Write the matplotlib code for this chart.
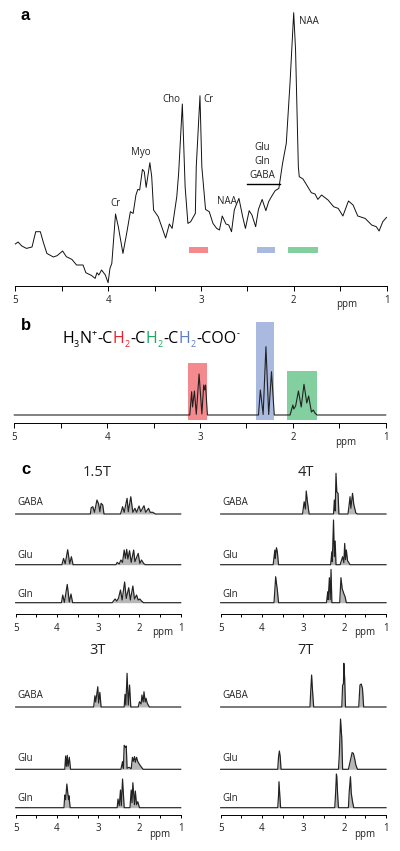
import matplotlib
matplotlib.use('Agg')
import matplotlib.pyplot as plt

plt.rcParams['font.family'] = ['Open Sans', 'DejaVu Sans']

W, H = 400, 851
RED = '#F58A8E'
BLUE = '#A9B9DF'
GREEN = '#83CFA0'

# Panel a: in vivo spectrum, intensity in pixels above the axis
a_ppm = [5.00, 4.97, 4.93, 4.88, 4.82, 4.78, 4.73, 4.70, 4.66, 4.59, 4.55, 4.49, 4.45, 4.39, 4.34, 4.27, 4.24, 4.18,
         4.14, 4.12, 4.10, 4.07, 4.03, 4.00, 3.98, 3.96, 3.92, 3.89, 3.84, 3.80, 3.76, 3.73, 3.70, 3.68, 3.66, 3.63,
         3.61, 3.59, 3.55, 3.53, 3.51, 3.46, 3.41, 3.38, 3.34, 3.31, 3.26, 3.24, 3.20, 3.17, 3.14, 3.11, 3.06, 3.05,
         3.01, 2.99, 2.95, 2.91, 2.87, 2.83, 2.80, 2.77, 2.73, 2.70, 2.67, 2.64, 2.62, 2.59, 2.55, 2.52, 2.48, 2.45,
         2.41, 2.38, 2.34, 2.30, 2.27, 2.24, 2.20, 2.16, 2.12, 2.08, 2.04, 2.00, 1.98, 1.95, 1.94, 1.90, 1.86, 1.81,
         1.77, 1.74, 1.70, 1.63, 1.57, 1.52, 1.47, 1.41, 1.36, 1.31, 1.23, 1.16, 1.11, 1.08, 1.04, 1.00]
a_int = [41.7, 43.7, 39.7, 37.3, 38.7, 54, 54, 44, 32.3, 28.7, 30, 34.7, 29, 26.3, 20.7, 20.7, 13, 10.3,
         7.3, 13, 10.7, 15.7, 10.7, 3, 17.3, 22.3, 71.7, 59, 32.3, 52.3, 74, 72.3, 90.7, 96.3, 95.7, 116.3,
         114, 98.3, 123, 109, 75.7, 69, 55.7, 47.7, 61.7, 57.3, 89, 112.3, 181.7, 99, 62.3, 64, 72.3, 119,
         190, 119, 76.3, 74, 62.3, 57.3, 55.7, 69.7, 61.7, 60.7, 54, 75.7, 80.7, 87.3, 69, 57.3, 75, 70.7,
         59, 76.3, 86.3, 75, 84, 89, 95, 97.3, 122.3, 142.3, 202.3, 273, 235.7, 119, 109, 106.7, 100.7, 93,
         91.7, 86.3, 90.7, 85.7, 79, 77.3, 69.7, 84.7, 80.7, 69.7, 67.3, 60.7, 59, 54.7, 64, 68.3]

# Panel b: GABA spectrum, intensity above its baseline
b_ppm = [3.11, 3.09, 3.08, 3.06, 3.04, 3.01, 2.98, 2.96, 2.95, 2.94, 2.92,
         2.37, 2.35, 2.32, 2.29, 2.26, 2.23, 2.20,
         2.03, 2.00, 1.99, 1.97, 1.94, 1.91, 1.88, 1.85, 1.83, 1.80, 1.78, 1.76, 1.74]
b_int = [0, 23.3, 8, 24, 0.7, 41, 1, 30, 25, 30, 0,
         0, 25, 0.5, 68.3, 0.5, 43.3, 0,
         0, 10, 6, 9, 24, 8, 30.7, 12, 19, 3, 5, 1.7, 0]

# Panel c: simulated spectra at each field strength
gaba15_ppm = [3.19, 3.17, 3.13, 3.09, 3.03, 2.99, 2.96, 2.93, 2.89, 2.86,
              2.46, 2.43, 2.41, 2.37, 2.30, 2.27, 2.21, 2.16, 2.11, 2.07, 2.01, 1.97, 1.89, 1.85, 1.78, 1.74, 1.68, 1.61]
gaba15_int = [0, 6.3, 7.3, 1.7, 14, 10, 2.3, 10.7, 9, 0,
              0, 4, 7.3, 1.7, 15.7, 2.3, 17.3, 1.7, 5.7, 1.7, 8, 2.3, 8.3, 1.7, 5.7, 1.7, 1.7, 0]
glu15_ppm = [3.88, 3.84, 3.80, 3.74, 3.69, 3.65, 3.61,
             2.57, 2.54, 2.49, 2.45, 2.41, 2.37, 2.34, 2.31, 2.28, 2.24, 2.20, 2.14, 2.11, 2.03, 1.99, 1.95, 1.90, 1.86]
glu15_int = [0, 6.3, 1, 15, 1, 8, 0,
             0, 2.3, 0.7, 4.7, 2.3, 14.7, 6.3, 15.3, 5.7, 14, 2.3, 14.7, 3, 11.3, 1.3, 4.7, 1.3, 0]
gln15_ppm = [3.89, 3.86, 3.82, 3.75, 3.70, 3.66, 3.62,
             2.66, 2.63, 2.59, 2.55, 2.51, 2.46, 2.42, 2.36, 2.32, 2.26, 2.22, 2.16, 2.12, 2.07, 2.03, 1.99, 1.95, 1.90]
gln15_int = [0, 7.7, 0.3, 18.3, 0.7, 8.7, 0,
             0, 1.7, 3.7, 1.7, 4.3, 12.7, 2.7, 20.7, 4.3, 15, 2.7, 16.7, 3.7, 7.7, 2.7, 3.7, 1.7, 0]

gaba4_ppm = [3.02, 2.98, 2.95, 2.93, 2.90, 2.86,
             2.27, 2.25, 2.23, 2.21, 2.19, 2.16, 2.14,
             1.92, 1.90, 1.87, 1.85, 1.81, 1.78, 1.73, 1.69]
gaba4_int = [0, 12.3, 5, 23, 12, 0,
             0, 14, 3, 40.7, 22, 20.7, 0,
             0, 6.3, 17.3, 5.7, 20.7, 9.7, 1, 0]
glu4_ppm = [3.73, 3.69, 3.68, 3.65, 3.63, 3.60,
            2.34, 2.31, 2.30, 2.27, 2.25, 2.23, 2.21,
            2.11, 2.05, 2.02, 2.00, 1.98, 1.96, 1.93, 1.87]
glu4_int = [0, 14.7, 6, 17, 13, 0,
            0, 13, 3, 44.7, 8, 23.7, 0,
            0, 8, 2, 21.3, 5, 14.7, 4, 0]
gln4_ppm = [3.71, 3.69, 3.67, 3.63, 3.60,
            2.44, 2.41, 2.40, 2.37, 2.35, 2.33, 2.31,
            2.12, 2.09, 2.06, 2.02, 1.99, 1.96]
gln4_int = [0, 12.7, 26, 12.7, 0,
            0, 11, 3, 25, 3, 33.3, 0,
            0, 25, 14, 9, 6, 0]

gaba3_ppm = [3.11, 3.08, 3.06, 3.01, 2.99, 2.96, 2.93,
             2.37, 2.35, 2.33, 2.30, 2.27, 2.24, 2.21,
             2.03, 2.00, 1.96, 1.94, 1.91, 1.89, 1.86, 1.84, 1.81, 1.76]
gaba3_int = [0, 11.3, 5, 20.3, 4, 14.7, 0,
             0, 12.7, 2, 33.7, 2, 22, 0,
             0, 5.3, 3, 12, 5, 15.3, 5, 8.7, 3.7, 0]
glu3_ppm = [3.81, 3.79, 3.77, 3.75, 3.73, 3.70, 3.67,
            2.45, 2.41, 2.39, 2.37, 2.34, 2.32, 2.30, 2.25, 2.20, 2.17, 2.15, 2.12, 2.10, 2.07, 2.04, 2.00, 1.95, 1.91]
glu3_int = [0, 13.3, 3, 14, 3, 12, 0,
            0, 7.7, 1, 24, 22, 23.3, 1, 2, 0.5, 12, 8, 12.7, 7, 12, 7.7, 5, 2, 0]
gln3_ppm = [3.83, 3.81, 3.79, 3.76, 3.72, 3.71, 3.68,
            2.54, 2.52, 2.49, 2.46, 2.44, 2.41, 2.37,
            2.23, 2.20, 2.18, 2.16, 2.12, 2.10, 2.07, 2.04, 2.00]
gln3_int = [0, 12.7, 8, 23.7, 8, 12, 0,
            0, 8.7, 2, 17.7, 2, 28.7, 0,
            0, 17.7, 5, 25, 3, 16.7, 3, 6, 0]

gaba7_ppm = [2.84, 2.82, 2.80, 2.78, 2.75,
             2.07, 2.05, 2.03, 2.02, 2.00, 1.98,
             1.66, 1.63, 1.60, 1.57, 1.54]
gaba7_int = [0, 17, 32, 17.7, 0,
             0, 22, 23, 43.7, 28.7, 0,
             0, 22, 23, 18.7, 0]
glu7_ppm = [3.62, 3.60, 3.58, 3.56, 3.54,
            2.15, 2.13, 2.10, 2.07, 2.05,
            1.91, 1.85, 1.82, 1.79, 1.76, 1.73, 1.69]
glu7_int = [0, 12.7, 18.3, 12.7, 0,
            0, 14.3, 50.3, 31, 0,
            0, 11, 16.7, 16, 11, 4.3, 0]
gln7_ppm = [3.62, 3.60, 3.59, 3.57, 3.55,
            2.24, 2.22, 2.20, 2.19, 2.17, 2.15,
            1.91, 1.89, 1.86, 1.84, 1.81, 1.78]
gln7_int = [0, 12.7, 26, 12.7, 0,
            0, 14.3, 33.7, 31, 12.7, 0,
            0, 16, 31, 14.3, 6, 0]

tick_labels = ['5', '4', '3', '2', '1']
tick_ppm = [5, 4, 3, 2, 1]
minor_ppm = [4.5, 3.5, 2.5, 1.5]


def px_text(x, y, s, **kw):
    kw.setdefault('ha', 'center')
    kw.setdefault('va', 'center')
    kw.setdefault('fontsize', 7)
    kw.setdefault('color', '#222222')
    return fig.text(x / W, 1 - y / H, s, **kw)


def make_axes(x0, x1, y_axis, height, tick_len=3.5, pad=3):
    # one data unit on y is one pixel, x is ppm running backwards
    ax = fig.add_axes([x0 / W, 1 - y_axis / H, (x1 - x0) / W, height / H])
    ax.set_xlim(5, 1)
    ax.set_ylim(0, height)
    ax.patch.set_alpha(0)
    for side in ['top', 'left', 'right']:
        ax.spines[side].set_visible(False)
    ax.spines['bottom'].set_linewidth(0.7)
    ax.set_yticks([])
    ax.set_xticks(tick_ppm)
    ax.set_xticklabels(tick_labels, fontsize=7, color='#222222')
    ax.set_xticks(minor_ppm, minor=True)
    ax.tick_params(axis='x', which='both', length=tick_len, width=0.7, pad=pad)
    return ax


def spectrum(ax, ppm, intensity, base, lw=0.85, shade=0.3):
    xs = [5] + ppm + [1]
    ys = [base] + [base + v for v in intensity] + [base]
    if shade:
        ax.fill_between(xs, base, ys, color='#111111', alpha=shade, lw=0, clip_on=False)
    ax.plot(xs, ys, color='#222222', lw=lw, clip_on=False)


fig = plt.figure(figsize=(W / 100, H / 100), dpi=100)

# panel a
ax_a = make_axes(15.3, 386.5, 285.7, 280)
ax_a.plot(a_ppm, a_int, color='#111111', lw=0.7, clip_on=False)
ax_a.fill_between([3.13, 2.92], 32.3, 38.3, color=RED, lw=0)
ax_a.fill_between([2.40, 2.20], 32.3, 38.3, color=BLUE, lw=0)
ax_a.fill_between([2.06, 1.74], 32.3, 38.3, color=GREEN, lw=0)
ax_a.plot([2.50, 2.15], [102, 102], color='black', lw=1)

px_text(25, 16, 'a', fontsize=12, fontweight='bold', family='Liberation Sans', color='black')
for x, y, s in [(115, 203, 'Cr'), (141, 153, 'Myo'), (171, 99, 'Cho'), (208, 99, 'Cr'), (227, 202, 'NAA'),
                (262, 148, 'Glu'), (262, 162, 'Gln'), (262, 175, 'GABA'), (309, 21, 'NAA')]:
    px_text(x, y, s)
px_text(347, 305, 'ppm')

# panel b
ax_b = make_axes(14.3, 385.7, 423.3, 110)
ax_b.fill_between([3.13, 2.92], 3.3, 60.7, color=RED, lw=0)
ax_b.fill_between([2.40, 2.20], 3.3, 101.3, color=BLUE, lw=0)
ax_b.fill_between([2.06, 1.74], 3.3, 52.3, color=GREEN, lw=0)
spectrum(ax_b, b_ppm, b_int, 8.3, lw=0.8, shade=0)

px_text(26, 326, 'b', fontsize=12, fontweight='bold', family='Liberation Sans', color='black')
px_text(346, 443, 'ppm')

# formula, pieces placed one after another
formula = [('H', 'k', 0), ('3', 'k', -1), ('N', 'k', 0), ('+', 'k', 1), ('-C', 'k', 0), ('H', '#E8202A', 0),
           ('2', '#E8202A', -1), ('-C', 'k', 0), ('H', '#1DA862', 0), ('2', '#1DA862', -1), ('-C', 'k', 0),
           ('H', '#5B7DC0', 0), ('2', '#5B7DC0', -1), ('-COO', 'k', 0), ('-', 'k', 1)]
renderer = fig.canvas.get_renderer()
x_pos = 62.0
for s, col, level in formula:
    size = 11.5 if level == 0 else 6.5
    y_pos = 343 + (4 if level < 0 else -7 if level > 0 else 0)
    t = px_text(x_pos, y_pos, s, ha='left', va='baseline', fontsize=size, color=col)
    x_pos += t.get_window_extent(renderer).width + 0.3

# panel c
panels = [
    (15.7, 180.7, 614.3, '1.5T', 97, 472, 163, 633, [514, 564.7, 602.7], [503, 555, 594.6],
     [gaba15_ppm, glu15_ppm, gln15_ppm], [gaba15_int, glu15_int, gln15_int]),
    (220.7, 386, 614.3, '4T', 305.7, 472, 365, 633, [514, 564.7, 602.7], [503, 555, 594.6],
     [gaba4_ppm, glu4_ppm, gln4_ppm], [gaba4_int, glu4_int, gln4_int]),
    (15.7, 180.7, 814.7, '3T', 97, 651, 160, 834, [707, 769.3, 807.7], [696, 758.7, 798.3],
     [gaba3_ppm, glu3_ppm, gln3_ppm], [gaba3_int, glu3_int, gln3_int]),
    (220.7, 386, 814.7, '7T', 305.7, 651, 365, 834, [707, 769.3, 807.7], [696, 758.7, 798.3],
     [gaba7_ppm, glu7_ppm, gln7_ppm], [gaba7_int, glu7_int, gln7_int]),
]
for x0, x1, y_axis, title, tx, ty, px, py, bases, label_y, ppms, ints in panels:
    ax = make_axes(x0, x1, y_axis, 140, tick_len=2, pad=4)
    for name, base, ly, ppm, vals in zip(['GABA', 'Glu', 'Gln'], bases, label_y, ppms, ints):
        spectrum(ax, ppm, vals, y_axis - base)
        px_text(x0 + 1.5, ly, name, ha='left')
    px_text(tx, ty, title, fontsize=10.5)
    px_text(px, py, 'ppm')

px_text(26, 470, 'c', fontsize=12, fontweight='bold', family='Liberation Sans', color='black')

fig.savefig('out.png', dpi=100)
